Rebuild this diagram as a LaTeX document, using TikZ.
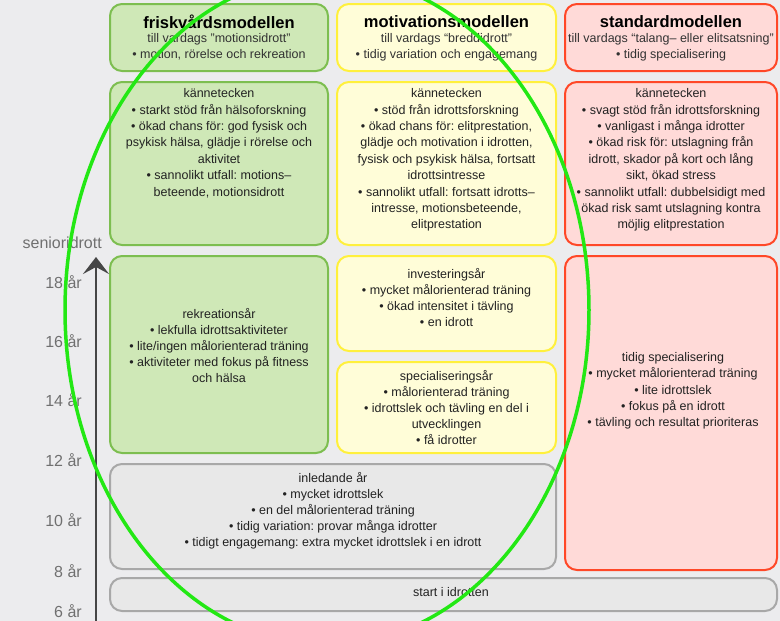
\documentclass[tikz,border=0pt]{standalone}
\usepackage{fontspec}
\setmainfont{Liberation Sans}
\frenchspacing
\usetikzlibrary{arrows.meta}
\definecolor{bg}{RGB}{236,236,238}
\definecolor{gfill}{RGB}{207,232,183}
\definecolor{gline}{RGB}{125,190,80}
\definecolor{yfill}{RGB}{255,253,216}
\definecolor{yline}{RGB}{255,240,60}
\definecolor{rfill}{RGB}{255,218,216}
\definecolor{rline}{RGB}{255,72,40}
\definecolor{kfill}{RGB}{232,232,232}
\definecolor{kline}{RGB}{168,168,168}
\definecolor{txt}{RGB}{34,34,34}
\definecolor{subtxt}{RGB}{50,50,50}
\definecolor{axistxt}{RGB}{112,112,112}
\definecolor{arrowc}{RGB}{70,70,70}
\definecolor{marker}{RGB}{35,232,20}
\begin{document}
\begin{tikzpicture}[x=1pt,y=-1pt,
  box/.style={rounded corners=12pt, line width=2pt, inner sep=0pt, outer sep=0pt, anchor=north west},
  gbox/.style={box, fill=gfill, draw=gline},
  ybox/.style={box, fill=yfill, draw=yline},
  rbox/.style={box, fill=rfill, draw=rline},
  kbox/.style={box, fill=kfill, draw=kline},
  title/.style={anchor=north, inner sep=0pt, font=\fontsize{16.5}{18}\selectfont\bfseries, text=black},
  sub/.style={anchor=north, inner sep=0pt, align=center, font=\fontsize{12.5}{16}\selectfont, text=subtxt},
  body/.style={anchor=north, inner sep=0pt, align=center, font=\fontsize{12.5}{16.4}\selectfont, text=txt},
  agelabel/.style={anchor=east, inner sep=0pt, font=\fontsize{16}{18}\selectfont, text=axistxt},
]
\useasboundingbox (0,0) rectangle (780,621);
\clip (0,0) rectangle (780,621);
\fill[bg] (0,0) rectangle (780,621);

% headers
\node[gbox, minimum width=218pt, minimum height=67pt] (gh) at (110,4) {};
\node[ybox, minimum width=219pt, minimum height=67pt] (yh) at (337,4) {};
\node[rbox, minimum width=212pt, minimum height=67pt] (rh) at (565,4) {};
\node[title] (ght) at (219,15) {friskvårdsmodellen};
\node[sub] (ghs) at (219,33.5) {till vardags ”motionsidrott”\\• motion, rörelse och rekreation};
\node[title] (yht) at (446.5,15) {motivationsmodellen};
\node[sub] (yhs) at (446.5,33.5) {till vardags “breddidrott”\\• tidig variation och engagemang};
\node[title] (rht) at (671,15) {standardmodellen};
\node[sub] (rhs) at (671,33.5) {till vardags “talang– eller elitsatsning”\\• tidig specialisering};

% kännetecken
\node[gbox, minimum width=218pt, minimum height=163pt] (gk) at (110,82) {};
\node[ybox, minimum width=219pt, minimum height=163pt] (yk) at (337,82) {};
\node[rbox, minimum width=212pt, minimum height=163pt] (rk) at (565,82) {};
\node[body] (gkt) at (219,88.4) {kännetecken\\• starkt stöd från hälsoforskning\\• ökad chans för: god fysisk och\\psykisk hälsa, glädje i rörelse och\\aktivitet\\• sannolikt utfall: motions–\\beteende, motionsidrott};
\node[body] (ykt) at (446.5,88.4) {kännetecken\\• stöd från idrottsforskning\\• ökad chans för: elitprestation,\\glädje och motivation i idrotten,\\fysisk och psykisk hälsa, fortsatt\\idrottsintresse\\• sannolikt utfall: fortsatt idrotts–\\intresse, motionsbeteende,\\elitprestation};
\node[body] (rkt) at (671,88.4) {kännetecken\\• svagt stöd från idrottsforskning\\• vanligast i många idrotter\\• ökad risk för: utslagning från\\idrott, skador på kort och lång\\sikt, ökad stress\\• sannolikt utfall: dubbelsidigt med\\ökad risk samt utslagning kontra\\möjlig elitprestation};

% stages
\node[gbox, minimum width=218pt, minimum height=197pt] (grek) at (110,256) {};
\node[ybox, minimum width=219pt, minimum height=95pt] (yinv) at (337,256) {};
\node[ybox, minimum width=219pt, minimum height=91pt] (yspec) at (337,362) {};
\node[rbox, minimum width=212pt, minimum height=314pt] (rtid) at (565,256) {};
\node[kbox, minimum width=446pt, minimum height=105pt] (inl) at (110,464) {};
\node[kbox, minimum width=667pt, minimum height=33pt] (start) at (110,578) {};

\node[body, font=\fontsize{12.5}{16}\selectfont] (grekt) at (219,308.4) {rekreationsår\\• lekfulla idrottsaktiviteter\\• lite/ingen målorienterad träning\\• aktiviteter med fokus på fitness\\och hälsa};
\node[body, font=\fontsize{12.5}{16}\selectfont] (yinvt) at (446.5,268.4) {investeringsår\\• mycket målorienterad träning\\• ökad intensitet i tävling\\• en idrott};
\node[body, font=\fontsize{12.5}{16}\selectfont] (yspect) at (446.5,370.4) {specialiseringsår\\• målorienterad träning\\• idrottslek och tävling en del i\\utvecklingen\\• få idrotter};
\node[body, font=\fontsize{12.5}{16.2}\selectfont] (rtidt) at (673,352.4) {tidig specialisering\\• mycket målorienterad träning\\• lite idrottslek\\• fokus på en idrott\\• tävling och resultat prioriteras};
\node[body, font=\fontsize{12.5}{16}\selectfont] (inlt) at (333,472.4) {inledande år\\• mycket idrottslek\\• en del målorienterad träning\\• tidig variation: provar många idrotter\\• tidigt engagemang: extra mycket idrottslek i en idrott};
\node[body] (startt) at (451,587.4) {start i idrotten};

% age axis
\node[agelabel] (sen) at (102,243) {senioridrott};
\node[agelabel] (a18) at (82,282) {18 år};
\node[agelabel] (a16) at (82,341) {16 år};
\node[agelabel] (a14) at (82,400) {14 år};
\node[agelabel] (a12) at (82,460) {12 år};
\node[agelabel] (a10) at (82,520) {10 år};
\node[agelabel] (a8) at (82,571) {8 år};
\node[agelabel] (a6) at (82,611) {6 år};
\coordinate (abot) at (96,625);
\coordinate (atop) at (96,257);
\draw[arrowc, line width=2.6pt, -{Stealth[length=17pt,width=26pt,inset=7pt]}] (abot) -- (atop);

% hand-drawn green ellipse
\draw[marker, line width=3.5pt] (327,310) ellipse [x radius=262pt, y radius=335pt];
\end{tikzpicture}
\end{document}
